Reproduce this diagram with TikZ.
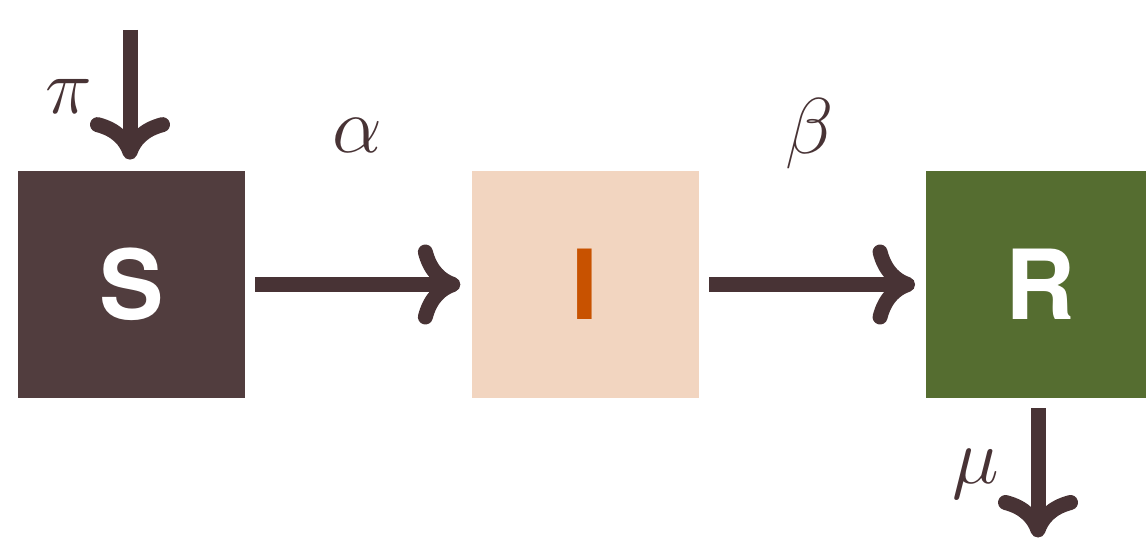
\RequirePackage{fix-cm}
\documentclass[tikz,border=0pt]{standalone}
\usepackage{fontspec}
\setsansfont{TeX Gyre Heros}
\usepackage{tikz}
\usetikzlibrary{positioning, arrows.meta}
\definecolor{sdark}  {RGB}{81, 61, 62}
\definecolor{flowc}  {RGB}{72, 51, 53}
\definecolor{ipeach} {RGB}{242, 213, 192}
\definecolor{iorange}{RGB}{200, 82, 0}
\definecolor{rgreen} {RGB}{85, 109, 48}
\tikzset{
  % Compartment box
  comp/.style={
    rectangle, minimum width=4.54cm, minimum height=4.54cm, inner sep=0pt,
    font=\fontsize{55pt}{60pt}\selectfont\sffamily\bfseries
  },
  % Flow arrow
  flow/.style={
    -{Computer Modern Rightarrow[round, length=0.85cm, width=1.6cm]},
    line width=0.3cm, color=flowc
  },
  % Rate label
  rate/.style={font=\fontsize{45pt}{50pt}\selectfont, text=flowc, inner sep=0pt},
}
\begin{document}
\begin{tikzpicture}[node distance=4.52cm]
  \useasboundingbox (0,0) rectangle (22.92,-10.8);
  \node[comp, fill=sdark, text=white] (S) at (2.63,-5.69) {S};
  \node[comp, fill=ipeach, text=iorange, right=of S] (I) {I};
  \node[comp, fill=rgreen, text=white, right=4.54cm of I] (R) {R};
  \coordinate (Sin) at (2.6,-0.6);
  \coordinate (Rout) at (20.76,-10.75);
  \draw[flow, shorten >=0.22cm] (Sin) -- (S.north -| Sin);
  \draw[flow, shorten <=0.2cm, shorten >=0.22cm] (S) -- (I);
  \draw[flow, shorten <=0.2cm, shorten >=0.22cm] (I) -- (R);
  \draw[flow, shorten <=0.2cm] (R.south -| Rout) -- (Rout);
  \node[rate] at (1.38,-1.92) {$\pi$};
  \node[rate] at (7.14,-2.7) {$\alpha$};
  \node[rate] at (16.2,-2.68) {$\beta$};
  \node[rate] at (19.52,-9.48) {$\mu$};
\end{tikzpicture}
\end{document}
